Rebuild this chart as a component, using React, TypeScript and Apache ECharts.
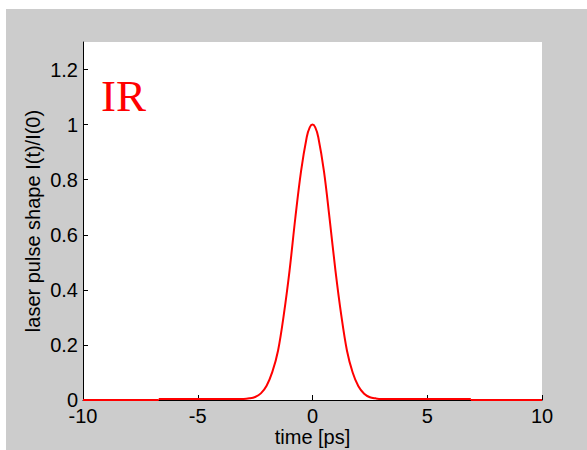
import React, { useEffect, useRef } from "react";
import * as echarts from "echarts";

// pulse shape
const tPulse = [-6.7, -3, -2.75, -2.5, -2.25, -2, -1.75, -1.5, -1.25, -1, -0.75, -0.5, -0.25, -0.12, 0, 0.12, 0.25, 0.5, 0.75, 1, 1.25, 1.5, 1.75, 2, 2.25, 2.5, 2.75, 3, 6.9];
const vPulse = [0.004, 0.004, 0.006, 0.011, 0.024, 0.052, 0.102, 0.18, 0.31, 0.47, 0.66, 0.83, 0.955, 0.99, 1, 0.99, 0.955, 0.83, 0.655, 0.47, 0.31, 0.18, 0.1, 0.05, 0.023, 0.01, 0.006, 0.004, 0.004];
// flat baseline outside the pulse window
const tBaseLeft = [-10, -6.7];
const tBaseRight = [6.9, 10];
const vBase = [0, 0];

const yTicks = [0, 0.2, 0.4, 0.6, 0.8, 1, 1.2];
const xTicks = [-10, -5, 0, 5, 10];

const FONT = "Liberation Sans, Arial, sans-serif";

export default function App() {
  const ref = useRef<HTMLDivElement>(null);
  useEffect(() => {
    if (!ref.current) return;
    const chart = echarts.init(ref.current, undefined, { renderer: "svg" });
    const zip = (a: number[], b: number[]) => a.map((x, i) => [x, b[i]]);
    const red = "#ff0000";
    chart.setOption({
      animation: false,
      backgroundColor: "transparent",
      grid: {
        left: 83,
        top: 42,
        right: 45,
        bottom: 50,
        outerBoundsMode: "none",
        containLabel: false,
        show: true,
        backgroundColor: "#ffffff",
        borderWidth: 0,
      },
      xAxis: {
        type: "value",
        min: -10,
        max: 10,
        interval: 5,
        name: "time [ps]",
        nameLocation: "middle",
        nameGap: 27,
        nameMoveOverlap: false,
        nameTextStyle: { fontFamily: FONT, fontSize: 20, color: "#000" },
        axisLine: { show: true, onZero: false, lineStyle: { color: "#000", width: 1 } },
        axisTick: { show: true, inside: true, length: 5, lineStyle: { color: "#000" }, customValues: xTicks },
        axisLabel: { fontFamily: FONT, fontSize: 20, color: "#000", margin: 6, customValues: xTicks },
        splitLine: { show: false },
      },
      yAxis: {
        type: "value",
        min: 0,
        max: 1.3,
        name: "laser pulse shape I(t)/I(0)",
        nameLocation: "middle",
        nameRotate: 90,
        nameGap: 40,
        nameMoveOverlap: false,
        nameTextStyle: { fontFamily: FONT, fontSize: 20, color: "#000" },
        axisLine: { show: true, onZero: false, lineStyle: { color: "#000", width: 1 } },
        axisTick: { show: true, inside: true, length: 5, lineStyle: { color: "#000" }, customValues: yTicks },
        axisLabel: { fontFamily: FONT, fontSize: 20, color: "#000", margin: 5, customValues: yTicks },
        splitLine: { show: false },
      },
      graphic: [
        {
          type: "text",
          left: 101,
          top: 73,
          style: {
            text: "IR",
            font: "45px 'Liberation Serif', 'Times New Roman', serif",
            fill: red,
          },
        },
      ],
      series: [
        {
          type: "line",
          data: zip(tBaseLeft, vBase),
          showSymbol: false,
          lineStyle: { color: red, width: 2 },
          z: 3,
        },
        {
          type: "line",
          data: zip(tBaseRight, vBase),
          showSymbol: false,
          lineStyle: { color: red, width: 2 },
          z: 3,
        },
        {
          type: "line",
          data: zip(tPulse, vPulse),
          showSymbol: false,
          smooth: 0.35,
          lineStyle: { color: red, width: 2 },
          z: 3,
        },
      ],
    });
    return () => chart.dispose();
  }, []);

  return (
    <div style={{ position: "fixed", left: 0, top: 0, width: 587, height: 450, background: "#ffffff" }}>
      <div style={{ position: "absolute", left: 6, top: 9, width: 581, height: 441, background: "#cccccc" }} />
      <div ref={ref} style={{ position: "absolute", left: 0, top: 0, width: 587, height: 450 }} />
    </div>
  );
}
